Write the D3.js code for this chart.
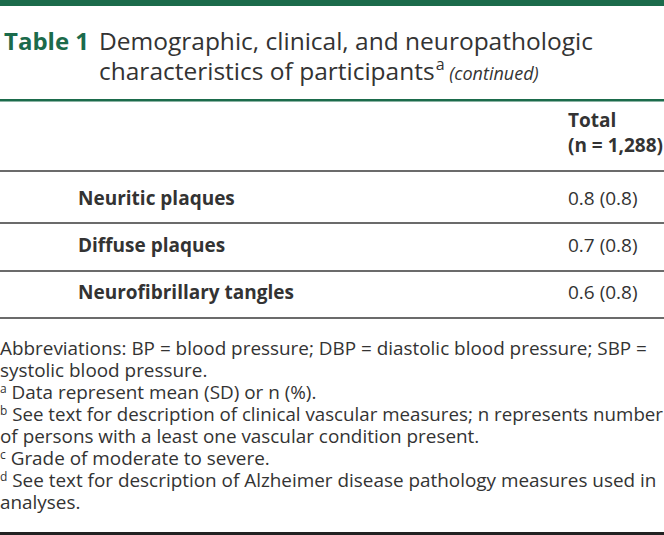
<!DOCTYPE html>
<html><head><meta charset="utf-8">
<script src="https://cdn.jsdelivr.net/npm/d3@7"></script>
<style>html,body{margin:0;padding:0;background:#fff;}svg{display:block;font-family:"Open Sans",sans-serif;}</style>
</head><body>
<script>
const tableLabel = "Table 1";
const titleLines = ["Demographic, clinical, and neuropathologic", "characteristics of participants"];
const titleSup = "a";
const titleNote = "(continued)";
const columnHeader = ["Total", "(n = 1,288)"];
const rowLabels = ["Neuritic plaques", "Diffuse plaques", "Neurofibrillary tangles"];
const rowValues = ["0.8 (0.8)", "0.7 (0.8)", "0.6 (0.8)"];
const footnotes = [
  {sup: "", text: "Abbreviations: BP = blood pressure; DBP = diastolic blood pressure; SBP ="},
  {sup: "", text: "systolic blood pressure."},
  {sup: "a", text: " Data represent mean (SD) or n (%)."},
  {sup: "b", text: " See text for description of clinical vascular measures; n represents number"},
  {sup: "", text: "of persons with a least one vascular condition present."},
  {sup: "c", text: " Grade of moderate to severe."},
  {sup: "d", text: " See text for description of Alzheimer disease pathology measures used in"},
  {sup: "", text: "analyses."}
];

const W = 664, H = 535;
const green = "#1b6b4b", ink = "#333", rule = "#3a3a3a";
const svg = d3.select("body").append("svg").attr("width", W).attr("height", H);

// top bar
svg.append("rect").attr("x", 0).attr("y", 0).attr("width", W).attr("height", 6).attr("fill", green);

// title
svg.append("text").attr("x", 4).attr("y", 50).attr("font-size", 24).attr("font-weight", 700)
  .attr("fill", green).text(tableLabel);
const tl = svg.append("g");
titleLines.forEach((t, i) => {
  const tx = tl.append("text").attr("x", 99).attr("y", 50 + i * 30).attr("font-size", 24.5)
    .attr("fill", ink).text(t);
  if (i === titleLines.length - 1) {
    tx.append("tspan").attr("font-size", 16).attr("dy", -10).attr("dx", 1).text(titleSup);
    tx.append("tspan").attr("font-size", 18).attr("font-style", "italic").attr("dy", 10).text(" " + titleNote);
  }
});

// green rule under title
svg.append("rect").attr("x", 0).attr("y", 99).attr("width", W).attr("height", 2.5).attr("fill", green);

// header
const colX = 568;
columnHeader.forEach((h, i) => {
  svg.append("text").attr("x", colX).attr("y", 127 + i * 25).attr("font-size", 19)
    .attr("font-weight", 700).attr("fill", ink).text(h);
});

// rows
const y = d3.scalePoint().domain(rowLabels).range([205, 299]);
const ruleY = [171, 223, 271, 318];
svg.selectAll("line.rule").data(ruleY).join("line").attr("class", "rule")
  .attr("x1", 0).attr("x2", W).attr("y1", d => d).attr("y2", d => d)
  .attr("stroke", rule).attr("stroke-width", 1.6);

svg.selectAll("text.lab").data(rowLabels).join("text").attr("class", "lab")
  .attr("x", 78).attr("y", d => y(d)).attr("font-size", 19).attr("font-weight", 700)
  .attr("fill", ink).text(d => d);
svg.selectAll("text.val").data(rowValues).join("text").attr("class", "val")
  .attr("x", colX).attr("y", (d, i) => y(rowLabels[i])).attr("font-size", 19)
  .attr("fill", ink).text(d => d);

// footnotes
const fy = d3.scaleLinear().domain([0, footnotes.length - 1]).range([355, 509]);
footnotes.forEach((f, i) => {
  const t = svg.append("text").attr("x", 0).attr("y", fy(i)).attr("font-size", 18.9).attr("fill", ink);
  if (f.sup) {
    t.append("tspan").attr("font-size", 12).attr("dy", -6).text(f.sup);
    t.append("tspan").attr("dy", 6).text(f.text);
  } else {
    t.text(f.text);
  }
  const w = t.node().getComputedTextLength();
  if (w > W - 1) t.attr("textLength", W - 1).attr("lengthAdjust", "spacingAndGlyphs");
});

// bottom rule
svg.append("rect").attr("x", 0).attr("y", 532).attr("width", W).attr("height", 3).attr("fill", "#222");
</script>
</body></html>
